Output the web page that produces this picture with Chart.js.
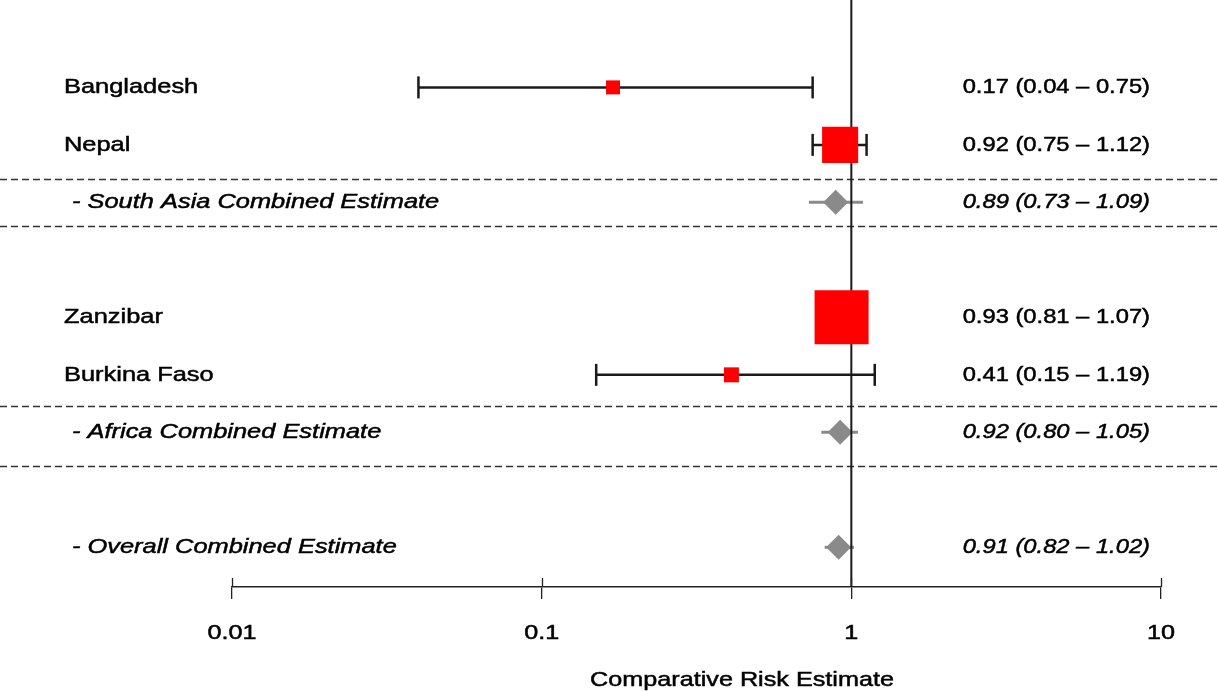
<!DOCTYPE html>
<html>
<head>
<meta charset="utf-8">
<script src="https://cdn.jsdelivr.net/npm/chart.js@4/dist/chart.umd.min.js"></script>
<style>
  html, body { margin: 0; padding: 0; background: #fff; }
  #wrap { width: 1218px; height: 691px; position: relative; }
</style>
</head>
<body>
<div id="wrap"><canvas id="forest"></canvas></div>
<script>
// Forest plot: comparative risk by site, with regional and overall pooled estimates
const rowLabels = [
  'Bangladesh',
  'Nepal',
  '- South Asia Combined Estimate',
  'Zanzibar',
  'Burkina Faso',
  '- Africa Combined Estimate',
  '- Overall Combined Estimate'
];
const isPooled  = [false, false, true, false, false, true, true];
const estimates = [0.17, 0.92, 0.89, 0.93, 0.41, 0.92, 0.91];
const lowerCI   = [0.04, 0.75, 0.73, 0.81, 0.15, 0.80, 0.82];
const upperCI   = [0.75, 1.12, 1.09, 1.07, 1.19, 1.05, 1.02];
const xTicks    = [0.01, 0.1, 1, 10];
const xTitle    = 'Comparative Risk Estimate';

// Layout of rows on the vertical axis (row slots, gaps between groups)
const rowSlot   = [1, 2, 3, 5, 6, 7, 9];
const sepSlots  = [2.59, 3.41, 6.54, 7.58];
const Y_MIN = -0.52, Y_MAX = 9.69;

const FONT = "'Liberation Sans', Arial, sans-serif";
const INK = '#1a1a1a';
const POOL_GREY = '#8a8a8a';

const datasets = [];

// Individual study confidence intervals with end caps
rowLabels.forEach((name, i) => {
  if (isPooled[i]) return;
  datasets.push({
    type: 'line',
    label: name + ' CI',
    data: [{ x: lowerCI[i], y: rowSlot[i] }, { x: upperCI[i], y: rowSlot[i] }],
    borderColor: INK,
    borderWidth: 2.5,
    pointStyle: 'line',
    rotation: 90,
    pointRadius: 11,
    pointBorderColor: INK,
    pointBorderWidth: 2.5,
    order: 2
  });
});

// Pooled estimate intervals (grey, no caps)
rowLabels.forEach((name, i) => {
  if (!isPooled[i]) return;
  datasets.push({
    type: 'line',
    label: name + ' CI',
    data: [{ x: lowerCI[i], y: rowSlot[i] }, { x: upperCI[i], y: rowSlot[i] }],
    borderColor: POOL_GREY,
    borderWidth: 3,
    pointRadius: 0,
    order: 5
  });
});

// Study point estimates: squares sized by study weight
const studyIdx = rowLabels.map((_, i) => i).filter(i => !isPooled[i]);
datasets.push({
  type: 'scatter',
  label: 'Study estimates',
  data: studyIdx.map(i => ({ x: estimates[i], y: rowSlot[i] })),
  pointStyle: 'rect',
  pointRadius: [9.9, 25.5, 38.2, 10.6],
  backgroundColor: '#ff0000',
  borderWidth: 0,
  order: 1
});

// Pooled estimates: diamonds
const pooledIdx = rowLabels.map((_, i) => i).filter(i => isPooled[i]);
datasets.push({
  type: 'scatter',
  label: 'Pooled estimates',
  data: pooledIdx.map(i => ({ x: estimates[i], y: rowSlot[i] })),
  pointStyle: 'rectRot',
  pointRadius: 12.5,
  backgroundColor: POOL_GREY,
  borderWidth: 0,
  order: 4
});

// Line of no effect at 1
datasets.push({
  type: 'line',
  label: 'No effect',
  data: [{ x: 1, y: Y_MIN }, { x: 1, y: Y_MAX }],
  borderColor: INK,
  borderWidth: 2,
  pointRadius: 0,
  order: 3
});

function stretchedText(ctx, text, x, y, sx, align, italic) {
  ctx.save();
  ctx.font = (italic ? 'italic ' : '') + '21px ' + FONT;
  ctx.textAlign = align;
  ctx.textBaseline = 'middle';
  ctx.fillStyle = '#000';
  ctx.strokeStyle = '#000';
  ctx.lineWidth = 0.5;
  ctx.translate(x, y);
  ctx.scale(sx, 1);
  ctx.fillText(text, 0, 0);
  ctx.strokeText(text, 0, 0);
  ctx.restore();
}

const fmt = v => v.toFixed(2);

const forestDecor = {
  id: 'forestDecor',
  beforeDatasetsDraw(chart) {
    const { ctx, scales: { y } } = chart;
    ctx.save();
    ctx.strokeStyle = '#333';
    ctx.lineWidth = 1.3;
    ctx.setLineDash([7, 4]);
    sepSlots.forEach(s => {
      const py = Math.round(y.getPixelForValue(s)) + 0.5;
      ctx.beginPath();
      ctx.moveTo(0, py);
      ctx.lineTo(chart.width, py);
      ctx.stroke();
    });
    ctx.restore();
  },
  afterDraw(chart) {
    const { ctx, scales: { x, y }, chartArea } = chart;
    // upward part of the axis tick marks, and tick labels
    ctx.save();
    ctx.strokeStyle = '#222';
    ctx.lineWidth = 1.3;
    x.ticks.forEach(t => {
      const px = Math.round(x.getPixelForValue(t.value)) + 0.5;
      ctx.beginPath();
      ctx.moveTo(px, chartArea.bottom - 9);
      ctx.lineTo(px, chartArea.bottom);
      ctx.stroke();
    });
    ctx.restore();
    x.ticks.forEach(t => {
      const px = x.getPixelForValue(t.value);
      stretchedText(ctx, String(t.value), px, chartArea.bottom + 46, 1.2, 'center', false);
    });

    // row labels and estimate text
    rowLabels.forEach((name, i) => {
      const py = y.getPixelForValue(rowSlot[i]);
      stretchedText(ctx, name, isPooled[i] ? 72 : 64, py, 1.21, 'left', isPooled[i]);
      const txt = fmt(estimates[i]) + ' (' + fmt(lowerCI[i]) + ' \u2013 ' + fmt(upperCI[i]) + ')';
      stretchedText(ctx, txt, 1150, py, 1.13, 'right', isPooled[i]);
    });

    // axis title
    stretchedText(ctx, xTitle, 742, 680, 1.2, 'center', false);
  }
};

new Chart(document.getElementById('forest'), {
  type: 'scatter',
  data: { datasets },
  options: {
    responsive: true,
    maintainAspectRatio: false,
    animation: false,
    layout: { autoPadding: false, padding: { left: 232, right: 57, top: 0, bottom: 92 } },
    plugins: { legend: { display: false }, tooltip: { enabled: false } },
    scales: {
      x: {
        type: 'logarithmic',
        position: 'bottom',
        min: 0.01,
        max: 10,
        afterBuildTicks: s => { s.ticks = xTicks.map(v => ({ value: v })); },
        ticks: { display: false, autoSkip: false, maxRotation: 0 },
        grid: {
          display: true,
          drawOnChartArea: false,
          drawTicks: true,
          tickLength: 12,
          color: '#222',
          lineWidth: 1.3
        },
        border: { display: true, color: '#222', width: 1.5 }
      },
      y: {
        type: 'linear',
        reverse: true,
        min: Y_MIN,
        max: Y_MAX,
        display: false
      }
    }
  },
  plugins: [forestDecor]
});
</script>
</body>
</html>
